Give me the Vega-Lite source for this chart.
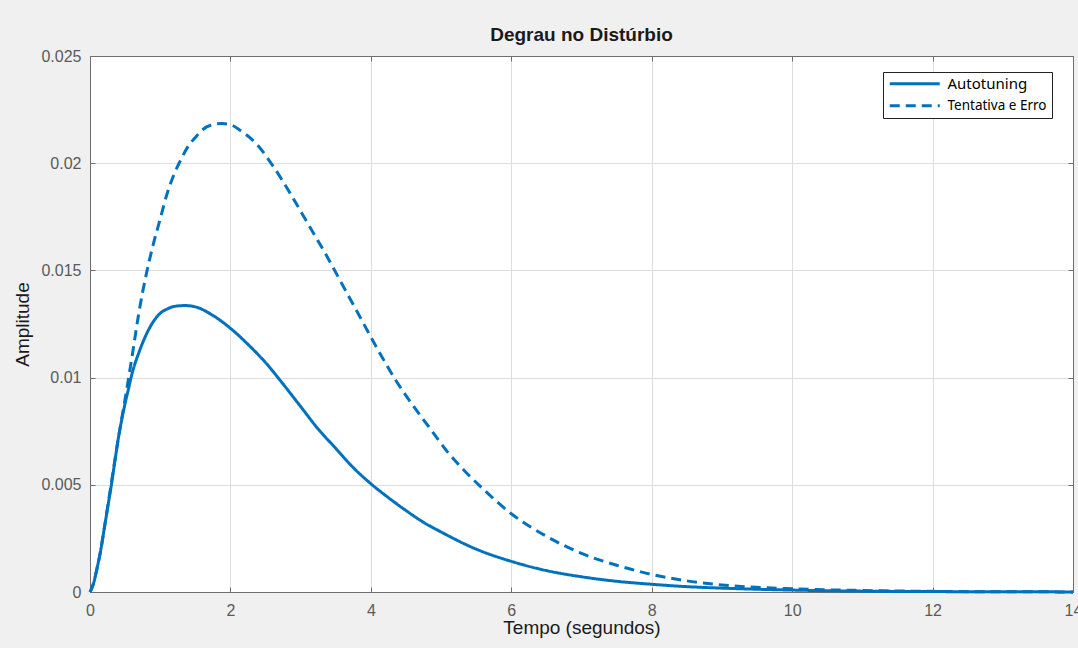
{
  "$schema": "https://vega.github.io/schema/vega-lite/v6.json",
  "width": 983,
  "height": 536,
  "autosize": {"type": "none"},
  "padding": {"left": 90, "top": 56, "right": 5, "bottom": 56},
  "background": "#f0f0f0",
  "title": {"text": "Degrau no Distúrbio", "font": "Liberation Sans", "fontSize": 19, "fontWeight": "bold", "color": "#1a1a1a", "offset": 3, "anchor": "middle"},
  "config": {
    "view": {"fill": "white", "stroke": "#6e6e6e", "strokeWidth": 1},
    "axis": {
      "domainColor": "#6e6e6e", "tickColor": "#6e6e6e", "tickSize": -5, "tickWidth": 1,
      "gridColor": "#dddddd", "gridWidth": 1,
      "labelFont": "Liberation Sans", "labelFontSize": 16, "labelColor": "#5a5a5a",
      "titleFont": "Liberation Sans", "titleFontSize": 19, "titleFontWeight": "normal", "titleColor": "#1a1a1a"
    },
    "legend": {
      "orient": "none", "legendX": 793, "legendY": 16,
      "strokeColor": "#222222", "fillColor": "#ffffff", "padding": 5,
      "labelFont": "Noto Sans", "labelFontSize": 14, "labelColor": "#000000"
    }
  },
  "data": {"values": [
    {"t": 0, "v": 0, "s": "Autotuning"},
    {"t": 0.05, "v": 0.0004, "s": "Autotuning"},
    {"t": 0.1, "v": 0.0011, "s": "Autotuning"},
    {"t": 0.15, "v": 0.0019, "s": "Autotuning"},
    {"t": 0.2, "v": 0.0029, "s": "Autotuning"},
    {"t": 0.25, "v": 0.0039, "s": "Autotuning"},
    {"t": 0.3, "v": 0.0049, "s": "Autotuning"},
    {"t": 0.35, "v": 0.006, "s": "Autotuning"},
    {"t": 0.4, "v": 0.0071, "s": "Autotuning"},
    {"t": 0.45, "v": 0.008, "s": "Autotuning"},
    {"t": 0.5, "v": 0.0088, "s": "Autotuning"},
    {"t": 0.55, "v": 0.0095, "s": "Autotuning"},
    {"t": 0.6, "v": 0.0102, "s": "Autotuning"},
    {"t": 0.7, "v": 0.0112, "s": "Autotuning"},
    {"t": 0.8, "v": 0.012, "s": "Autotuning"},
    {"t": 0.9, "v": 0.0126, "s": "Autotuning"},
    {"t": 1.0, "v": 0.013, "s": "Autotuning"},
    {"t": 1.1, "v": 0.0132, "s": "Autotuning"},
    {"t": 1.2, "v": 0.01332, "s": "Autotuning"},
    {"t": 1.35, "v": 0.01336, "s": "Autotuning"},
    {"t": 1.5, "v": 0.0133, "s": "Autotuning"},
    {"t": 1.75, "v": 0.0129, "s": "Autotuning"},
    {"t": 2.0, "v": 0.0123, "s": "Autotuning"},
    {"t": 2.25, "v": 0.01155, "s": "Autotuning"},
    {"t": 2.5, "v": 0.0107, "s": "Autotuning"},
    {"t": 2.75, "v": 0.0097, "s": "Autotuning"},
    {"t": 3.0, "v": 0.00865, "s": "Autotuning"},
    {"t": 3.25, "v": 0.0076, "s": "Autotuning"},
    {"t": 3.5, "v": 0.0067, "s": "Autotuning"},
    {"t": 3.75, "v": 0.0058, "s": "Autotuning"},
    {"t": 4.0, "v": 0.00505, "s": "Autotuning"},
    {"t": 4.25, "v": 0.0044, "s": "Autotuning"},
    {"t": 4.5, "v": 0.0038, "s": "Autotuning"},
    {"t": 4.75, "v": 0.00325, "s": "Autotuning"},
    {"t": 5.0, "v": 0.0028, "s": "Autotuning"},
    {"t": 5.5, "v": 0.002, "s": "Autotuning"},
    {"t": 6.0, "v": 0.00143, "s": "Autotuning"},
    {"t": 6.5, "v": 0.001, "s": "Autotuning"},
    {"t": 7.0, "v": 0.00071, "s": "Autotuning"},
    {"t": 7.5, "v": 0.0005, "s": "Autotuning"},
    {"t": 8.0, "v": 0.00036, "s": "Autotuning"},
    {"t": 8.5, "v": 0.00025, "s": "Autotuning"},
    {"t": 9.0, "v": 0.00018, "s": "Autotuning"},
    {"t": 10, "v": 0.00009, "s": "Autotuning"},
    {"t": 11, "v": 0.00004, "s": "Autotuning"},
    {"t": 12, "v": 0.00002, "s": "Autotuning"},
    {"t": 13, "v": 0.00001, "s": "Autotuning"},
    {"t": 14, "v": 0.000005, "s": "Autotuning"},
    {"t": 0, "v": 0, "s": "Tentativa e Erro"},
    {"t": 0.05, "v": 0.0004, "s": "Tentativa e Erro"},
    {"t": 0.1, "v": 0.0011, "s": "Tentativa e Erro"},
    {"t": 0.15, "v": 0.0019, "s": "Tentativa e Erro"},
    {"t": 0.2, "v": 0.0029, "s": "Tentativa e Erro"},
    {"t": 0.3, "v": 0.005, "s": "Tentativa e Erro"},
    {"t": 0.4, "v": 0.0071, "s": "Tentativa e Erro"},
    {"t": 0.5, "v": 0.009, "s": "Tentativa e Erro"},
    {"t": 0.6, "v": 0.011, "s": "Tentativa e Erro"},
    {"t": 0.7, "v": 0.0131, "s": "Tentativa e Erro"},
    {"t": 0.8, "v": 0.0148, "s": "Tentativa e Erro"},
    {"t": 0.9, "v": 0.0162, "s": "Tentativa e Erro"},
    {"t": 1.0, "v": 0.0174, "s": "Tentativa e Erro"},
    {"t": 1.1, "v": 0.0186, "s": "Tentativa e Erro"},
    {"t": 1.2, "v": 0.0195, "s": "Tentativa e Erro"},
    {"t": 1.3, "v": 0.0202, "s": "Tentativa e Erro"},
    {"t": 1.4, "v": 0.0208, "s": "Tentativa e Erro"},
    {"t": 1.5, "v": 0.0212, "s": "Tentativa e Erro"},
    {"t": 1.6, "v": 0.02155, "s": "Tentativa e Erro"},
    {"t": 1.75, "v": 0.0218, "s": "Tentativa e Erro"},
    {"t": 1.88, "v": 0.02185, "s": "Tentativa e Erro"},
    {"t": 2.0, "v": 0.0218, "s": "Tentativa e Erro"},
    {"t": 2.13, "v": 0.02155, "s": "Tentativa e Erro"},
    {"t": 2.37, "v": 0.0209, "s": "Tentativa e Erro"},
    {"t": 2.6, "v": 0.0199, "s": "Tentativa e Erro"},
    {"t": 2.85, "v": 0.0186, "s": "Tentativa e Erro"},
    {"t": 3.1, "v": 0.0172, "s": "Tentativa e Erro"},
    {"t": 3.35, "v": 0.0158, "s": "Tentativa e Erro"},
    {"t": 3.6, "v": 0.0143, "s": "Tentativa e Erro"},
    {"t": 3.85, "v": 0.0128, "s": "Tentativa e Erro"},
    {"t": 4.1, "v": 0.0113, "s": "Tentativa e Erro"},
    {"t": 4.35, "v": 0.0099, "s": "Tentativa e Erro"},
    {"t": 4.6, "v": 0.0087, "s": "Tentativa e Erro"},
    {"t": 4.85, "v": 0.0076, "s": "Tentativa e Erro"},
    {"t": 5.1, "v": 0.0065, "s": "Tentativa e Erro"},
    {"t": 5.35, "v": 0.0056, "s": "Tentativa e Erro"},
    {"t": 5.6, "v": 0.0048, "s": "Tentativa e Erro"},
    {"t": 6.0, "v": 0.00365, "s": "Tentativa e Erro"},
    {"t": 6.5, "v": 0.0026, "s": "Tentativa e Erro"},
    {"t": 7.0, "v": 0.0018, "s": "Tentativa e Erro"},
    {"t": 7.5, "v": 0.00125, "s": "Tentativa e Erro"},
    {"t": 8.0, "v": 0.00082, "s": "Tentativa e Erro"},
    {"t": 8.5, "v": 0.00052, "s": "Tentativa e Erro"},
    {"t": 9.0, "v": 0.00033, "s": "Tentativa e Erro"},
    {"t": 10, "v": 0.00015, "s": "Tentativa e Erro"},
    {"t": 11, "v": 0.00007, "s": "Tentativa e Erro"},
    {"t": 12, "v": 0.00003, "s": "Tentativa e Erro"},
    {"t": 13, "v": 0.00001, "s": "Tentativa e Erro"},
    {"t": 14, "v": 0.000005, "s": "Tentativa e Erro"}
  ]},
  "layer": [
    {
      "mark": {"type": "line", "color": "#0072BD", "strokeWidth": 3, "interpolate": "monotone"},
      "encoding": {
        "x": {"field": "t", "type": "quantitative", "scale": {"domain": [0, 14], "nice": false},
          "axis": {"orient": "bottom", "title": "Tempo (segundos)", "values": [0, 2, 4, 6, 8, 10, 12, 14], "grid": true, "labelPadding": 15, "titlePadding": 0, "labelFlush": false}},
        "y": {"field": "v", "type": "quantitative", "scale": {"domain": [0, 0.025], "nice": false},
          "axis": {"orient": "left", "title": "Amplitude", "values": [0, 0.005, 0.01, 0.015, 0.02, 0.025], "format": "~g", "grid": true, "labelPadding": 14, "titlePadding": 8, "labelFlush": false}},
        "strokeDash": {"field": "s", "type": "nominal",
          "scale": {"domain": ["Autotuning", "Tentativa e Erro"], "range": [[1, 0], [10, 6]]},
          "legend": {"title": null, "symbolType": "M-5,0H5", "symbolSize": 100, "symbolStrokeWidth": 3, "symbolStrokeColor": "#0072BD", "symbolOffset": 20, "labelOffset": 26, "rowPadding": 6,
            "encode": {"labels": {"update": {"fontSize": {"signal": "datum.label === 'Autotuning' ? 15 : 13.5"}}}}}
        }
      }
    },
    {
      "mark": {"type": "point", "opacity": 0},
      "encoding": {
        "x": {"field": "t", "type": "quantitative", "scale": {"domain": [0, 14], "nice": false},
          "axis": {"orient": "top", "title": null, "labels": false, "grid": false, "values": [0, 2, 4, 6, 8, 10, 12, 14]}},
        "y": {"field": "v", "type": "quantitative", "scale": {"domain": [0, 0.025], "nice": false},
          "axis": {"orient": "right", "title": null, "labels": false, "grid": false, "values": [0, 0.005, 0.01, 0.015, 0.02, 0.025]}}
      }
    }
  ],
  "resolve": {"axis": {"x": "independent", "y": "independent"}}
}
